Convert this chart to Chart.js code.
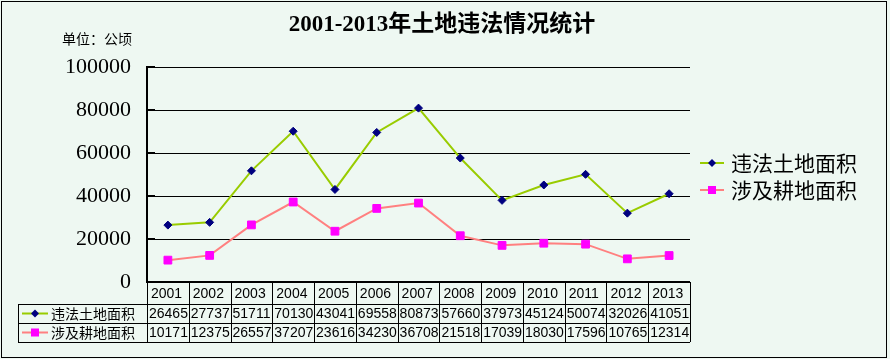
<!DOCTYPE html>
<html>
<head>
<meta charset="utf-8">
<script src="https://cdn.jsdelivr.net/npm/chart.js@4/dist/chart.umd.min.js"></script>
<style>
  html, body { margin: 0; padding: 0; background: #fff; }
  canvas { display: block; }
</style>
</head>
<body>
<canvas id="chart1" width="890" height="359"></canvas>
<script>
/*Data*/
var years = ['2001', '2002', '2003', '2004', '2005', '2006', '2007', '2008', '2009', '2010', '2011', '2012', '2013'];
var illegalLand = [26465, 27737, 51711, 70130, 43041, 69558, 80873, 57660, 37973, 45124, 50074, 32026, 41051];
var farmLand = [10171, 12375, 26557, 37207, 23616, 34230, 36708, 21518, 17039, 18030, 17596, 10765, 12314];
var seriesNames = ['违法土地面积', '涉及耕地面积'];
var chartTitle = '2001-2013年土地违法情况统计';
var unitLabel = '单位：公顷';

var bgColor = '#EEF8F2';
var cjkFont = '"Noto Sans CJK SC", "Noto Sans", sans-serif';

/*Draw a legend key: line + marker*/
function drawKey(ctx, x1, x2, y, lineColor, markerColor, style) {
    ctx.save();
    ctx.strokeStyle = lineColor;
    ctx.lineWidth = 2;
    ctx.beginPath();
    ctx.moveTo(x1, y);
    ctx.lineTo(x2, y);
    ctx.stroke();
    var cx = (x1 + x2) / 2;
    ctx.fillStyle = markerColor;
    ctx.beginPath();
    if (style == 'diamond') {
        ctx.moveTo(cx, y - 4);
        ctx.lineTo(cx + 4, y);
        ctx.lineTo(cx, y + 4);
        ctx.lineTo(cx - 4, y);
        ctx.closePath();
    } else {
        ctx.rect(cx - 4, y - 4, 8, 8);
    }
    ctx.fill();
    ctx.restore();
}

var decorPlugin = {
    id: 'decor',
    beforeDraw: function(chart) {
        var ctx = chart.ctx;
        ctx.save();
        ctx.fillStyle = bgColor;
        ctx.fillRect(0, 0, chart.width, chart.height);
        ctx.restore();
    },
    afterDraw: function(chart) {
        var ctx = chart.ctx;
        var area = chart.chartArea;
        var xs = chart.scales.x;
        var ys = chart.scales.y;
        ctx.save();

        /*Outer border*/
        ctx.strokeStyle = '#000';
        ctx.lineWidth = 1;
        ctx.strokeRect(1.5, 1.5, 885, 356);

        /*Title*/
        ctx.fillStyle = '#000';
        ctx.font = 'bold 23px "Liberation Serif", ' + cjkFont;
        ctx.textAlign = 'center';
        ctx.textBaseline = 'middle';
        ctx.fillText(chartTitle, 442, 25);

        /*Unit*/
        ctx.font = '14px ' + cjkFont;
        ctx.textAlign = 'left';
        ctx.fillText(unitLabel, 62, 39);

        /*Inner tick marks*/
        ys.ticks.forEach(function(t) {
            var py = Math.round(ys.getPixelForValue(t.value));
            ctx.fillRect(area.left, py - 1, 8, 2);
        });

        /*Bottom axis line*/
        ctx.fillRect(area.left - 1, area.bottom - 1, area.right - area.left + 1, 2);

        /*Right legend*/
        ctx.font = '21px ' + cjkFont;
        ctx.textBaseline = 'middle';
        drawKey(ctx, 700, 724, 163, '#99CC00', '#000080', 'diamond');
        ctx.fillStyle = '#000';
        ctx.fillText(seriesNames[0], 731, 163);
        drawKey(ctx, 700, 724, 190, '#FF8080', '#FF00FF', 'square');
        ctx.fillStyle = '#000';
        ctx.fillText(seriesNames[1], 731, 190);

        /*Data table*/
        var colW = (area.right - area.left) / years.length;
        var rowTops = [area.bottom, 304, 323, 342];
        var tableLeft = 18;
        ctx.strokeStyle = '#000';
        ctx.lineWidth = 1;
        ctx.beginPath();
        /*horizontal lines*/
        ctx.moveTo(tableLeft, rowTops[1] + 0.5);
        ctx.lineTo(area.right, rowTops[1] + 0.5);
        ctx.moveTo(tableLeft, rowTops[2] + 0.5);
        ctx.lineTo(area.right, rowTops[2] + 0.5);
        ctx.moveTo(tableLeft, rowTops[3] + 0.5);
        ctx.lineTo(area.right, rowTops[3] + 0.5);
        /*vertical lines*/
        ctx.moveTo(tableLeft + 0.5, rowTops[1]);
        ctx.lineTo(tableLeft + 0.5, rowTops[3]);
        for (var i = 0; i <= years.length; i++) {
            var vx = Math.round(area.left + i * colW) + 0.5;
            ctx.moveTo(vx, rowTops[0]);
            ctx.lineTo(vx, rowTops[3]);
        }
        ctx.stroke();

        ctx.fillStyle = '#000';
        ctx.font = '14px "Liberation Sans", sans-serif';
        ctx.textAlign = 'left';
        ctx.textBaseline = 'middle';
        years.forEach(function(y, i) {
            var cx = xs.getPixelForValue(i) - colW / 2;
            ctx.fillText(y, cx + 4, (rowTops[0] + rowTops[1]) / 2 + 1);
            ctx.fillText(String(illegalLand[i]), cx + 2, (rowTops[1] + rowTops[2]) / 2 + 1);
            ctx.fillText(String(farmLand[i]), cx + 2, (rowTops[2] + rowTops[3]) / 2 + 1);
        });

        /*Table row keys*/
        var r1 = (rowTops[1] + rowTops[2]) / 2;
        var r2 = (rowTops[2] + rowTops[3]) / 2;
        drawKey(ctx, 22, 48, r1, '#99CC00', '#000080', 'diamond');
        drawKey(ctx, 22, 48, r2, '#FF8080', '#FF00FF', 'square');
        ctx.fillStyle = '#000';
        ctx.font = '14px ' + cjkFont;
        ctx.fillText(seriesNames[0], 51, r1);
        ctx.fillText(seriesNames[1], 51, r2);

        ctx.restore();
    }
};

var chart = new Chart(document.getElementById('chart1').getContext('2d'), {
    type: 'line',
    data: {
        labels: years,
        datasets: [{
            label: seriesNames[0],
            data: illegalLand,
            borderColor: '#99CC00',
            borderWidth: 2,
            pointStyle: 'rectRot',
            pointRadius: 4,
            pointBackgroundColor: '#000080',
            pointBorderColor: '#000080',
            pointBorderWidth: 1
        }, {
            label: seriesNames[1],
            data: farmLand,
            borderColor: '#FF8080',
            borderWidth: 2,
            pointStyle: 'rect',
            pointRadius: 5.5,
            pointBackgroundColor: '#FF00FF',
            pointBorderColor: '#FF00FF',
            pointBorderWidth: 1
        }]
    },
    options: {
        responsive: false,
        animation: false,
        layout: {
            padding: { left: 0, right: 200, top: 67, bottom: 77 }
        },
        plugins: {
            legend: { display: false },
            title: { display: false },
            tooltip: { enabled: false }
        },
        scales: {
            x: {
                display: false,
                offset: true
            },
            y: {
                min: 0,
                max: 100000,
                ticks: {
                    stepSize: 20000,
                    color: '#000',
                    padding: 16,
                    font: { family: '"Liberation Serif", serif', size: 22 },
                    callback: function(value) { return String(value); }
                },
                grid: {
                    color: '#000',
                    lineWidth: 1,
                    drawTicks: false
                },
                border: { color: '#000', width: 2 },
                afterFit: function(scale) {
                    scale.width = 147;
                }
            }
        }
    },
    plugins: [decorPlugin]
});
</script>
</body>
</html>
